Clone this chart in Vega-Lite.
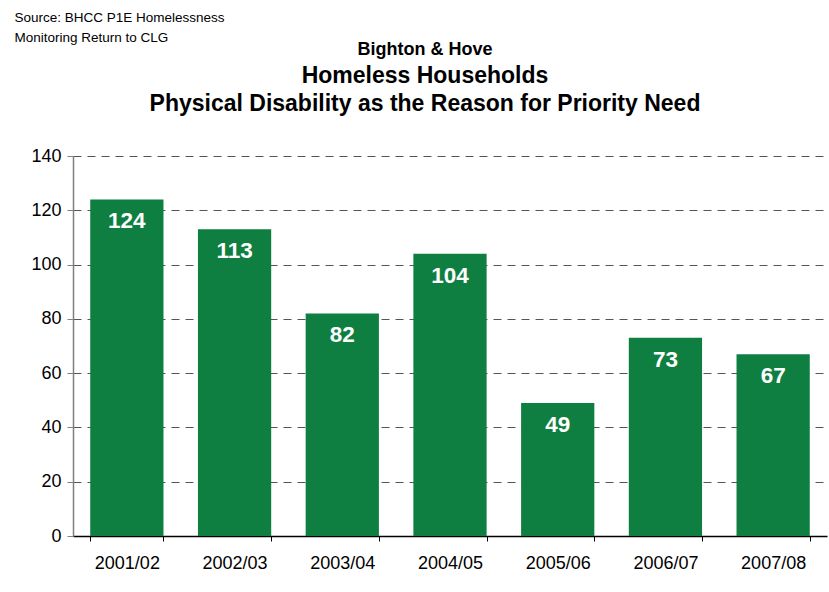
{
  "$schema": "https://vega.github.io/schema/vega-lite/v6.json",
  "width": 754,
  "height": 380,
  "autosize": {"type": "none"},
  "padding": {"left": 73, "top": 156, "right": 2, "bottom": 56},
  "background": "white",
  "config": {"view": {"stroke": null}, "font": "Liberation Sans"},
  "title": {
    "text": "Bighton & Hove",
    "subtitle": ["Homeless Households", "Physical Disability as the Reason for Priority Need"],
    "anchor": "middle",
    "frame": "group",
    "dx": -25,
    "offset": -106,
    "fontSize": 18,
    "fontWeight": "bold",
    "color": "black",
    "subtitleFontSize": 23,
    "subtitleFontWeight": "bold",
    "subtitleColor": "black",
    "subtitleLineHeight": 28,
    "subtitlePadding": 6
  },
  "data": {
    "values": [
      {"year": "2001/02", "value": 124},
      {"year": "2002/03", "value": 113},
      {"year": "2003/04", "value": 82},
      {"year": "2004/05", "value": 104},
      {"year": "2005/06", "value": 49},
      {"year": "2006/07", "value": 73},
      {"year": "2007/08", "value": 67}
    ]
  },
  "encoding": {
    "x": {
      "field": "year",
      "type": "nominal",
      "sort": null,
      "scale": {"paddingInner": 0.32, "paddingOuter": 0.16},
      "axis": {
        "title": null,
        "labelAngle": 0,
        "labelFontSize": 18,
        "labelColor": "black",
        "labelPadding": 13,
        "domainColor": "black",
        "domainWidth": 1.5,
        "tickColor": "black",
        "tickSize": 5,
        "tickBand": "extent"
      }
    },
    "y": {
      "field": "value",
      "type": "quantitative",
      "scale": {"domain": [0, 140]},
      "axis": {
        "values": [0, 20, 40, 60, 80, 100, 120, 140],
        "title": ["Source: BHCC P1E Homelessness", "Monitoring Return to CLG"],
        "titleAngle": 0,
        "titleAlign": "left",
        "titleBaseline": "top",
        "titleX": -59,
        "titleY": -146,
        "titleFontSize": 13.5,
        "titleFontWeight": "normal",
        "titleColor": "black",
        "titleLineHeight": 20,
        "labelFontSize": 18,
        "labelColor": "black",
        "labelPadding": 6,
        "domainColor": "#808080",
        "domainWidth": 1.5,
        "tickColor": "#808080",
        "tickSize": 6,
        "grid": true,
        "gridColor": "#555555",
        "gridDash": [8, 6],
        "gridWidth": 1
      }
    }
  },
  "layer": [
    {"mark": {"type": "bar", "color": "#0e7f40"}},
    {
      "mark": {"type": "text", "color": "white", "fontSize": 22.5, "fontWeight": "bold", "baseline": "top", "dy": 11},
      "encoding": {"text": {"field": "value", "type": "quantitative"}}
    }
  ]
}
